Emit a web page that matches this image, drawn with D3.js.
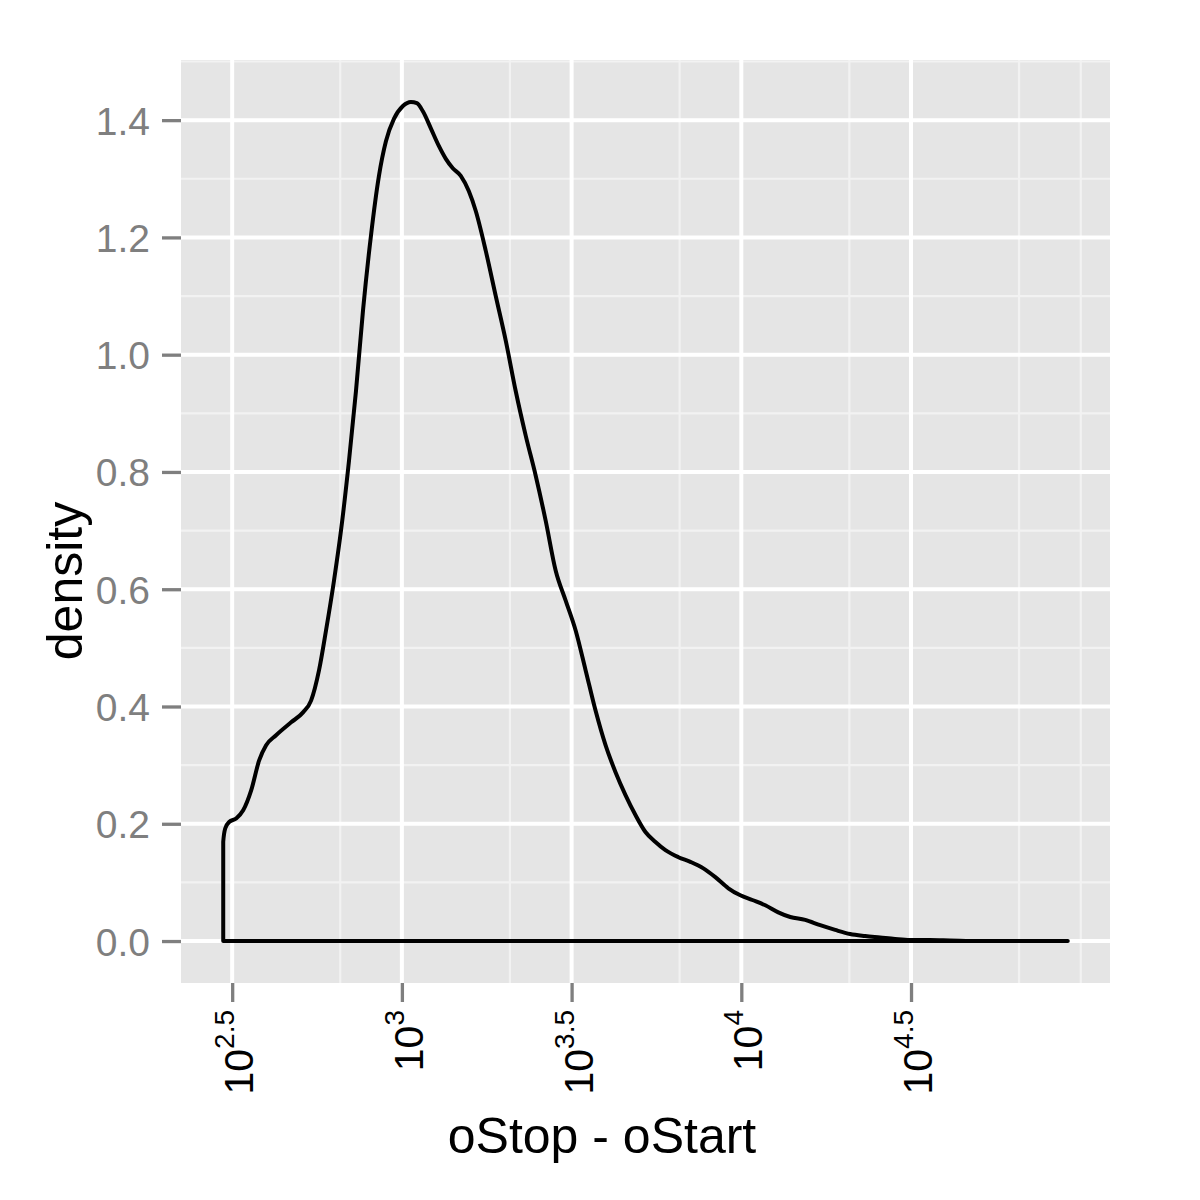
<!DOCTYPE html>
<html>
<head>
<meta charset="utf-8">
<script src="https://d3js.org/d3.v7.min.js"></script>
<style>
  body { margin: 0; background: #fff; }
  text { font-family: "Liberation Sans", Arial, Helvetica, sans-serif; }
</style>
</head>
<body>
<div id="chart"></div>
<script>
// density estimate of oStop - oStart
var lengths = [297.6, 301.6, 309.8, 324.9, 340.7, 359.7, 379.7, 398.1, 425.9, 471.6,
  511.4, 540.0, 570.1, 597.8, 631.0, 661.6, 698.5, 732.4, 768.0, 810.7,
  855.9, 897.4, 947.3, 1006.8, 1062.9, 1107.0, 1153.0, 1217.1, 1284.9, 1347.4,
  1412.5, 1491.2, 1574.3, 1650.7, 1766.6, 1890.2, 2022.9, 2164.3, 2316.3, 2478.0,
  2652.0, 2838.0, 3036.0, 3249.0, 3477.0, 3720.0, 3981.1, 4260.0, 4558.0, 4877.0,
  5219.0, 5586.0, 5977.0, 6526.0, 7079.0, 7731.0, 8385.0, 9158.0, 9933.0, 10775,
  11765, 12849, 13936, 15427, 17080, 18903, 20921, 23163, 25639, 28380,
  31419, 35965, 41180, 50460, 91580];
var densities = [0.169, 0.192, 0.203, 0.209, 0.223, 0.257, 0.308, 0.334, 0.351, 0.373,
  0.390, 0.410, 0.462, 0.530, 0.615, 0.700, 0.819, 0.938, 1.075, 1.203,
  1.305, 1.364, 1.402, 1.424, 1.431, 1.429, 1.415, 1.386, 1.356, 1.334,
  1.318, 1.305, 1.279, 1.245, 1.177, 1.100, 1.024, 0.938, 0.862, 0.794,
  0.717, 0.632, 0.581, 0.530, 0.462, 0.393, 0.334, 0.288, 0.249, 0.215,
  0.186, 0.169, 0.155, 0.143, 0.135, 0.124, 0.109, 0.090, 0.078, 0.070,
  0.061, 0.049, 0.041, 0.036, 0.027, 0.019, 0.012, 0.0085, 0.006, 0.0034,
  0.0017, 0.0017, 0.001, 0, 0];

// axis breaks
var xBreakExps = [2.5, 3, 3.5, 4, 4.5];
var xBreaks = [316.23, 1000, 3162.28, 10000, 31622.8];
var xMinorBreaks = [658.1, 2081.1, 6581.1, 20811, 65811, 100000];
var yBreaks = [0, 0.2, 0.4, 0.6, 0.8, 1.0, 1.2, 1.4];
var yLabels = ["0.0", "0.2", "0.4", "0.6", "0.8", "1.0", "1.2", "1.4"];
var yMinorBreaks = [0.1, 0.3, 0.5, 0.7, 0.9, 1.1, 1.3, 1.5];

var width = 1200, height = 1200;
var panel = { left: 181, right: 1110, top: 60, bottom: 983 };

var svg = d3.select("#chart")
  .append("svg")
  .attr("width", width)
  .attr("height", height);

// ggplot style 5% expansion on both scales
var xLogMin = Math.log10(d3.min(lengths)), xLogMax = Math.log10(d3.max(lengths));
var xPad = (xLogMax - xLogMin) * 0.05;
var x = d3.scaleLog()
  .domain([Math.pow(10, xLogMin - xPad), Math.pow(10, xLogMax + xPad)])
  .range([panel.left, panel.right]);

var yMax = d3.max(densities);
var y = d3.scaleLinear()
  .domain([-yMax * 0.05, yMax * 1.05])
  .range([panel.bottom, panel.top]);

svg.append("rect")
  .attr("x", panel.left)
  .attr("y", panel.top)
  .attr("width", panel.right - panel.left)
  .attr("height", panel.bottom - panel.top)
  .attr("fill", "#e5e5e5");

var grid = svg.append("g").attr("class", "grid");

grid.selectAll("line.yminor")
  .data(yMinorBreaks)
  .enter().append("line")
  .attr("class", "yminor")
  .attr("x1", panel.left).attr("x2", panel.right)
  .attr("y1", function(d) { return y(d); })
  .attr("y2", function(d) { return y(d); })
  .attr("stroke", "#f2f2f2")
  .attr("stroke-width", 2.2);

grid.selectAll("line.xminor")
  .data(xMinorBreaks)
  .enter().append("line")
  .attr("class", "xminor")
  .attr("y1", panel.top).attr("y2", panel.bottom)
  .attr("x1", function(d) { return x(d); })
  .attr("x2", function(d) { return x(d); })
  .attr("stroke", "#f2f2f2")
  .attr("stroke-width", 2.2);

grid.selectAll("line.ymajor")
  .data(yBreaks)
  .enter().append("line")
  .attr("class", "ymajor")
  .attr("x1", panel.left).attr("x2", panel.right)
  .attr("y1", function(d) { return y(d); })
  .attr("y2", function(d) { return y(d); })
  .attr("stroke", "#ffffff")
  .attr("stroke-width", 4);

grid.selectAll("line.xmajor")
  .data(xBreaks)
  .enter().append("line")
  .attr("class", "xmajor")
  .attr("y1", panel.top).attr("y2", panel.bottom)
  .attr("x1", function(d) { return x(d); })
  .attr("x2", function(d) { return x(d); })
  .attr("stroke", "#ffffff")
  .attr("stroke-width", 4);

// density outline, closed along the baseline like geom_density
var points = lengths.map(function(l, i) { return [l, densities[i]]; });
points.unshift([lengths[0], 0]);
points.push([lengths[lengths.length - 1], 0]);

var line = d3.line()
  .x(function(d) { return x(d[0]); })
  .y(function(d) { return y(d[1]); })
  .curve(d3.curveMonotoneX);

svg.append("path")
  .attr("d", line(points) + "Z")
  .attr("fill", "none")
  .attr("stroke", "#000")
  .attr("stroke-width", 4)
  .attr("stroke-linejoin", "round");

// y axis
var yAxis = svg.append("g")
  .attr("transform", "translate(" + panel.left + ",0)")
  .call(d3.axisLeft(y)
    .tickValues(yBreaks)
    .tickSize(19)
    .tickPadding(12)
    .tickFormat(function(d, i) { return yLabels[i]; }));
yAxis.select(".domain").remove();
yAxis.selectAll(".tick line")
  .attr("stroke", "#7f7f7f")
  .attr("stroke-width", 3.3);
yAxis.selectAll(".tick text")
  .attr("fill", "#7f7f7f")
  .attr("font-size", 39)
  .attr("font-family", "Liberation Sans, Arial, sans-serif")
  .attr("dy", "0.36em");

// x axis, ticks only; labels are drawn as 10^k below
var xAxis = svg.append("g")
  .attr("transform", "translate(0," + panel.bottom + ")")
  .call(d3.axisBottom(x)
    .tickValues(xBreaks)
    .tickSize(19)
    .tickFormat(""));
xAxis.select(".domain").remove();
xAxis.selectAll(".tick line")
  .attr("stroke", "#7f7f7f")
  .attr("stroke-width", 3.3);

var xLab = svg.selectAll("g.xlab")
  .data(xBreaks)
  .enter().append("g")
  .attr("class", "xlab")
  .attr("transform", function(d) {
    return "translate(" + (x(d) + 21) + ",1010) rotate(-90)";
  });

var xText = xLab.append("text")
  .attr("text-anchor", "end")
  .attr("fill", "#000");
xText.append("tspan")
  .attr("font-size", 41)
  .text("10");
xText.append("tspan")
  .attr("font-size", 28)
  .attr("dy", -19)
  .text(function(d, i) { return xBreakExps[i]; });

// axis titles
svg.append("text")
  .attr("x", 602)
  .attr("y", 1153)
  .attr("text-anchor", "middle")
  .attr("font-size", 50)
  .text("oStop - oStart");

svg.append("text")
  .attr("transform", "translate(82,581) rotate(-90)")
  .attr("text-anchor", "middle")
  .attr("font-size", 50)
  .text("density");
</script>
</body>
</html>
